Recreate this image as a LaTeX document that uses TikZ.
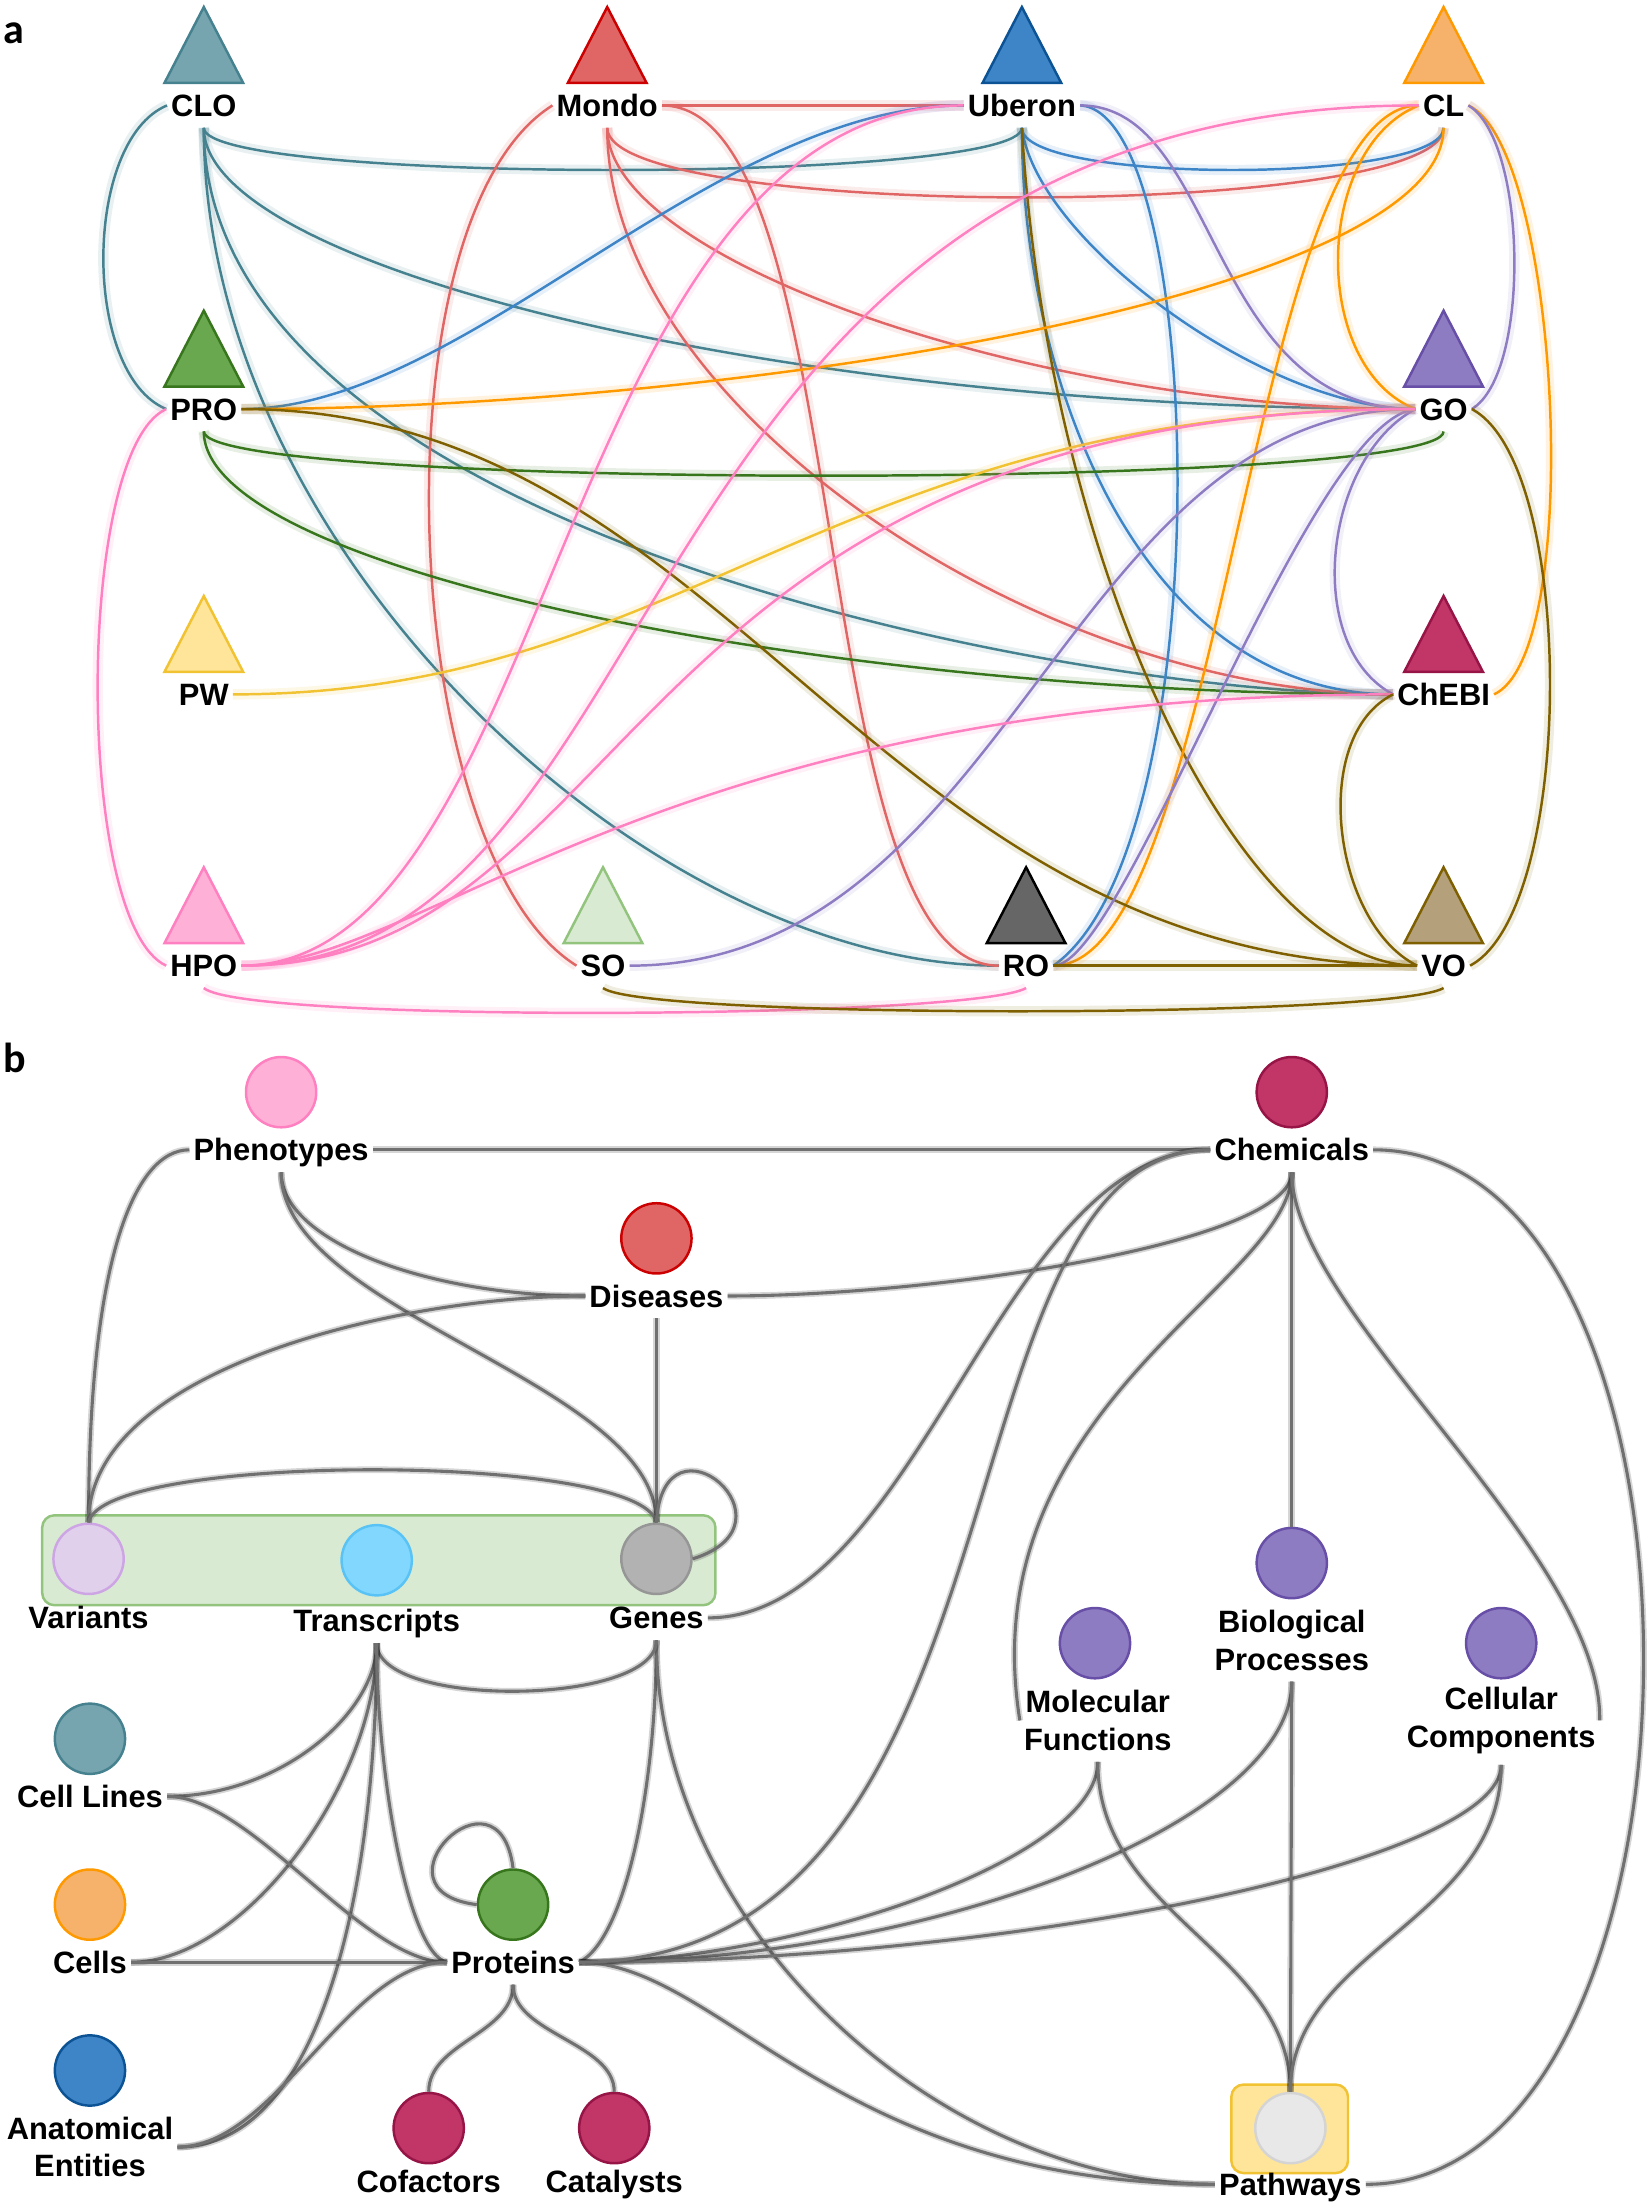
\documentclass[tikz,border=0pt]{standalone}
\usepackage{fontspec}
\setmainfont{Liberation Sans}
\newfontfamily\letterfont{Carlito}

% colours of the ontologies
\definecolor{cloFill}{RGB}{118,165,175}
\definecolor{cloLine}{RGB}{69,129,142}
\definecolor{mondoFill}{RGB}{224,102,102}
\definecolor{mondoLine}{RGB}{204,0,0}
\definecolor{uberonFill}{RGB}{61,133,198}
\definecolor{uberonLine}{RGB}{11,83,148}
\definecolor{clFill}{RGB}{246,178,107}
\definecolor{clLine}{RGB}{255,153,0}
\definecolor{proFill}{RGB}{106,168,79}
\definecolor{proLine}{RGB}{56,118,29}
\definecolor{goFill}{RGB}{142,124,195}
\definecolor{goLine}{RGB}{103,78,167}
\definecolor{pwFill}{RGB}{255,229,153}
\definecolor{pwLine}{RGB}{241,194,50}
\definecolor{chebiFill}{RGB}{193,53,103}
\definecolor{chebiLine}{RGB}{150,20,70}
\definecolor{hpoFill}{RGB}{255,176,214}
\definecolor{hpoLine}{RGB}{255,128,192}
\definecolor{soFill}{RGB}{217,234,211}
\definecolor{soLine}{RGB}{147,196,125}
\definecolor{roFill}{RGB}{102,102,102}
\definecolor{roLine}{RGB}{0,0,0}
\definecolor{voFill}{RGB}{180,160,122}
\definecolor{voLine}{RGB}{127,96,0}
\definecolor{varFill}{RGB}{225,208,235}
\definecolor{varLine}{RGB}{205,165,228}
\definecolor{transFill}{RGB}{130,215,255}
\definecolor{transLine}{RGB}{90,195,245}
\definecolor{geneFill}{RGB}{178,178,178}
\definecolor{geneLine}{RGB}{150,150,150}
\definecolor{pathFill}{RGB}{232,232,232}
\definecolor{pathLine}{RGB}{212,212,212}
\definecolor{edgegray}{RGB}{112,112,112}

\tikzset{
  lab/.style={font=\bfseries\fontsize{12.5}{15.1}\selectfont, inner xsep=1.5pt, inner ysep=4.4pt, text height=8.95pt, text depth=0pt},
  labtwo/.style={font=\bfseries\fontsize{12.5}{15.1}\selectfont, align=center, inner xsep=1.5pt, inner ysep=4.4pt},
  aedge/.style={draw=#1, line width=1pt, preaction={draw=#1, line width=4.2pt, opacity=0.12}},
  bedge/.style={draw=edgegray, line width=1.25pt, preaction={draw=black, line width=2.7pt, opacity=0.16}},
  dot/.style={circle, minimum size=1cm, inner sep=0pt, line width=1pt},
}

\begin{document}
\begin{tikzpicture}[x=0.02cm, y=-0.02cm]
  \useasboundingbox (0,0) rectangle (1174,1568);

  % Panel letters
  \node[anchor=base west, inner sep=0pt, font=\letterfont\bfseries\fontsize{17}{20}\selectfont] (panela) at (2,31) {a};
  \node[anchor=base west, inner sep=0pt, font=\letterfont\bfseries\fontsize{17}{20}\selectfont] (panelb) at (2,763) {b};

  %%%%%%%% Panel a: ontologies %%%%%%%%

  % Triangles of the ontologies
  \foreach \x/\y/\col in {145/75/clo, 432/75/mondo, 727/75/uberon, 1027/75/cl,
                          145/291/pro, 1027/291/go, 145/494/pw, 1027/494/chebi,
                          145/687/hpo, 429/687/so, 730/687/ro, 1027/687/vo}
    \filldraw[fill=\col Fill, draw=\col Line, line width=1pt] (\x-28,\y-16) -- (\x,\y-70) -- (\x+28,\y-16) -- cycle;

  % Ontology names
  \node[lab] (clo) at (145,75) {CLO};
  \node[lab] (mondo) at (432,75) {Mondo};
  \node[lab] (uberon) at (727,75) {Uberon};
  \node[lab] (cl) at (1027,75) {CL};
  \node[lab] (pro) at (145,291) {PRO};
  \node[lab] (go) at (1027,291) {GO};
  \node[lab] (pw) at (145,494) {PW};
  \node[lab] (chebi) at (1027,494) {ChEBI};
  \node[lab] (hpo) at (145,687) {HPO};
  \node[lab] (so) at (429,687) {SO};
  \node[lab] (ro) at (730,687) {RO};
  \node[lab] (vo) at (1027,687) {VO};

  % CLO links
  \draw[aedge=cloLine] (clo.west) .. controls +(-60,25) and +(-60,-25) .. (pro.west);
  \draw[aedge=cloLine] (clo.south) .. controls +(0,40) and +(0,40) .. (uberon.south);
  \draw[aedge=cloLine] (clo.south) .. controls +(0,100) and +(-450,0) .. (go.west);
  \draw[aedge=cloLine] (clo.south) .. controls +(0,287) and +(-235,0) .. (chebi.west);
  \draw[aedge=cloLine] (clo.south) .. controls +(0,300) and +(-250,0) .. (ro.west);

  % Mondo links
  \draw[aedge=mondoFill] (mondo.east) -- (uberon.west);
  \draw[aedge=mondoFill] (mondo.west) .. controls +(-128,80) and +(-128,-80) .. (so.west);
  \draw[aedge=mondoFill] (mondo.south) .. controls +(0,66) and +(0,66) .. (cl.south);
  \draw[aedge=mondoFill] (mondo.south) .. controls +(0,96) and +(-265,0) .. (go.west);
  \draw[aedge=mondoFill] (mondo.south) .. controls +(0,200) and +(-250,0) .. (chebi.west);
  \draw[aedge=mondoFill] (mondo.east) .. controls +(140,0) and +(-140,0) .. (ro.west);

  % Uberon links
  \draw[aedge=uberonFill] (uberon.west) .. controls +(-180,0) and +(160,0) .. (pro.east);
  \draw[aedge=uberonFill] (uberon.south) .. controls +(0,40) and +(0,40) .. (cl.south);
  \draw[aedge=uberonFill] (uberon.south) .. controls +(10,80) and +(-107,0) .. (go.west);
  \draw[aedge=uberonFill] (uberon.south) .. controls +(0,180) and +(-180,0) .. (chebi.west);
  \draw[aedge=uberonFill] (uberon.east) .. controls +(90,5) and +(120,-85) .. (ro.east);
  \draw[aedge=goFill] (uberon.east) .. controls +(100,0) and +(-150,0) .. (go.west);
  \draw[aedge=voLine] (uberon.south) .. controls +(18,309) and +(-128,0) .. (vo.west);

  % CL links
  \draw[aedge=clLine] (cl.south) .. controls +(0,120) and +(350,0) .. (pro.east);
  \draw[aedge=clLine] (cl.west) .. controls +(-75,30) and +(-75,-30) .. (go.west);
  \draw[aedge=clLine] (cl.west) .. controls +(-120,0) and +(120,0) .. (ro.east);
  \draw[aedge=clLine] (cl.east) .. controls +(65,30) and +(65,-30) .. (chebi.east);
  \draw[aedge=goFill] (cl.east) .. controls +(42,25) and +(42,-25) .. (go.east);

  % PRO links
  \draw[aedge=proLine] (pro.south) .. controls +(0,42) and +(0,42) .. (go.south);
  \draw[aedge=proLine] (pro.south) .. controls +(0,100) and +(-400,0) .. (chebi.west);
  \draw[aedge=voLine] (pro.east) .. controls +(350,0) and +(-390,0) .. (vo.west);

  % GO links
  \draw[aedge=goFill] (go.west) .. controls +(-65,35) and +(-65,-35) .. (chebi.west);
  \draw[aedge=goFill] (go.west) .. controls +(-77,9) and +(51,0) .. (ro.east);
  \draw[aedge=goFill] (go.west) .. controls +(-250,0) and +(270,0) .. (so.east);
  \draw[aedge=voLine] (go.east) .. controls +(75,40) and +(75,-40) .. (vo.east);

  % PW link
  \draw[aedge=pwLine] (pw.east) .. controls +(325,0) and +(-418,0) .. (go.west);

  % HPO links
  \draw[aedge=hpoLine] (hpo.west) .. controls +(-65,-30) and +(-65,30) .. (pro.west);
  \draw[aedge=hpoLine] (hpo.south) .. controls +(30,25) and +(-40,22) .. (ro.south);
  \draw[aedge=hpoLine] (hpo.east) .. controls +(223,0) and +(-289,0) .. (uberon.west);
  \draw[aedge=hpoLine] (hpo.east) .. controls +(318,0) and +(-577,0) .. (cl.west);
  \draw[aedge=hpoLine] (hpo.east) .. controls +(280,0) and +(-570,0) .. (go.west);
  \draw[aedge=hpoLine] (hpo.east) .. controls +(130,0) and +(-520,0) .. (chebi.west);

  % ChEBI, SO and RO links
  \draw[aedge=voLine] (chebi.west) .. controls +(-60,30) and +(-60,-30) .. (vo.west);
  \draw[aedge=voLine] (so.south) .. controls +(30,22) and +(-40,22) .. (vo.south);
  \draw[aedge=voLine] (ro.east) -- (vo.west);

  %%%%%%%% Panel b: entity types %%%%%%%%

  % Group boxes
  \draw[fill=soFill, draw=soLine, line width=1pt, rounded corners=5pt] (30,1078) rectangle (509,1142);
  \draw[fill=pwFill, draw=pwLine, line width=1pt, rounded corners=5pt] (876,1483) rectangle (959,1546);

  % Entity circles
  \foreach \n/\x/\y/\col in {pheno/200/777/hpo, dis/467/881/mondo, chem/919/777/chebi,
                             var/63/1109/var, trans/268/1110/trans, gene/467/1109/gene,
                             cline/64/1237/clo, cell/64/1355/cl, anat/64/1473/uberon,
                             prot/365/1355/pro, cofac/305/1514/chebi, catal/437/1514/chebi,
                             molf/779/1169/go, biop/919/1112/go, cellc/1068/1169/go, pathw/918/1514/path}
    \node[dot, fill=\col Fill, draw=\col Line] (\n-c) at (\x,\y) {};

  % Entity names
  \node[lab] (pheno) at (200,818) {Phenotypes};
  \node[lab] (dis) at (467,922) {Diseases};
  \node[lab] (chem) at (919,818) {Chemicals};
  \node[lab] (var) at (63,1151) {Variants};
  \node[lab] (trans) at (268,1153) {Transcripts};
  \node[lab] (gene) at (467,1151) {Genes};
  \node[lab] (cline) at (64,1278) {Cell Lines};
  \node[lab] (cell) at (64,1396) {Cells};
  \node[labtwo] (anat) at (64,1527.5) {Anatomical\\Entities};
  \node[lab] (prot) at (365,1396) {Proteins};
  \node[lab] (cofac) at (305,1552) {Cofactors};
  \node[lab] (catal) at (437,1552) {Catalysts};
  \node[labtwo] (molf) at (781,1224) {Molecular\\Functions};
  \node[labtwo] (biop) at (919,1167) {Biological\\Processes};
  \node[labtwo] (cellc) at (1068,1224) {Cellular\\Components};
  \node[lab] (pathw) at (918,1554) {Pathways};

  % Phenotype and disease links
  \draw[bedge] (pheno.west) .. controls +(-40,0) and +(0,-184) .. (var-c.north);
  \draw[bedge] (pheno.east) -- (chem.west);
  \draw[bedge] (pheno.south) .. controls +(0,50) and +(-110,0) .. (dis.west);
  \draw[bedge] (pheno.south) .. controls +(0,100) and +(0,-100) .. (gene-c.north);
  \draw[bedge] (dis.west) .. controls +(-130,0) and +(0,-110) .. (var-c.north);
  \draw[bedge] (dis.east) .. controls +(150,0) and +(0,50) .. (chem.south);
  \draw[bedge] (dis.south) -- (gene-c.north);

  % Variant, transcript and gene links
  \draw[bedge] (var-c.north) .. controls +(10,-50) and +(-10,-50) .. (gene-c.north);
  \draw[bedge] (gene-c.north) .. controls +(5,-85) and +(80,-25) .. (gene-c.east);
  \draw[bedge] (gene.east) .. controls +(150,0) and +(-150,0) .. (chem.west);
  \draw[bedge] (gene.south) .. controls +(0,104) and +(33,-16) .. (prot.east);
  \draw[bedge] (gene.south) .. controls +(0,200) and +(-200,0) .. (pathw.west);
  \draw[bedge] (trans.south) .. controls +(0,47) and +(0,47) .. (gene.south);
  \draw[bedge] (trans.south) .. controls +(0,50) and +(80,0) .. (cline.east);
  \draw[bedge] (trans.south) .. controls +(0,100) and +(80,0) .. (cell.east);
  \draw[bedge] (trans.south) .. controls +(0,150) and +(110,0) .. (anat.east);
  \draw[bedge] (trans.south) .. controls +(0,92) and +(-28,-6) .. (prot.west);

  % Protein links
  \draw[bedge] (cline.east) .. controls +(60,0) and +(-60,0) .. (prot.west);
  \draw[bedge] (cell.east) -- (prot.west);
  \draw[bedge] (anat.east) .. controls +(70,0) and +(-70,0) .. (prot.west);
  \draw[bedge] (prot-c.north) .. controls +(-10,-80) and +(-80,-10) .. (prot-c.west);
  \draw[bedge] (prot.south) .. controls +(0,35) and +(0,-35) .. (cofac-c.north);
  \draw[bedge] (prot.south) .. controls +(0,35) and +(0,-35) .. (catal-c.north);
  \draw[bedge] (prot.east) .. controls +(150,0) and +(0,70) .. (molf.south);
  \draw[bedge] (prot.east) .. controls +(250,0) and +(0,100) .. (biop.south);
  \draw[bedge] (prot.east) .. controls +(300,0) and +(0,70) .. (cellc.south);
  \draw[bedge] (prot.east) .. controls +(100,0) and +(-270,0) .. (pathw.west);

  % Chemical links
  \draw[bedge] (chem.west) .. controls +(-200,0) and +(330,0) .. (prot.east);
  \draw[bedge] (chem.south) .. controls +(0,80) and +(-36,-224) .. (molf.west);
  \draw[bedge] (chem.south) -- (biop-c.north);
  \draw[bedge] (chem.south) .. controls +(0,100) and +(2,-120) .. (cellc.east);
  \draw[bedge] (chem.east) .. controls +(260,0) and +(260,0) .. (pathw.east);

  % Pathway links
  \draw[bedge] (molf.south) .. controls +(0,110) and +(0,-100) .. (pathw-c.north);
  \draw[bedge] (biop.south) -- (pathw-c.north);
  \draw[bedge] (cellc.south) .. controls +(0,110) and +(0,-100) .. (pathw-c.north);
\end{tikzpicture}
\end{document}
